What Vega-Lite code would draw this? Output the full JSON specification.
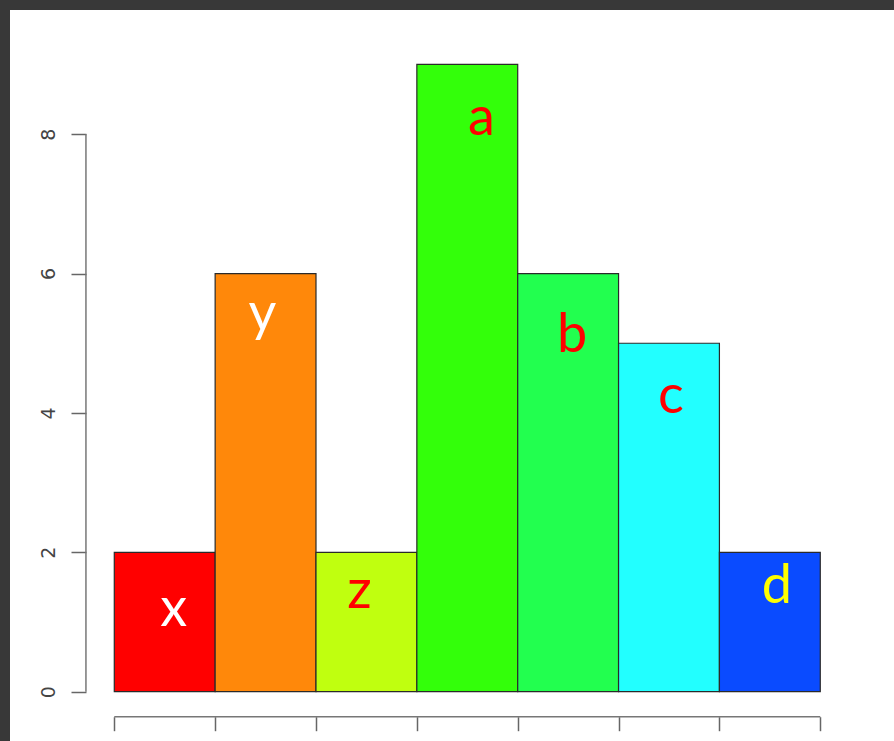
{
  "$schema": "https://vega.github.io/schema/vega-lite/v6.json",
  "width": 884,
  "height": 731,
  "autosize": "none",
  "padding": {"left": 10, "top": 10, "right": 0, "bottom": 0},
  "background": "#383838",
  "config": {"view": {"stroke": null, "fill": "white"}},
  "data": {
    "values": [
      {"label": "x", "start": 0, "end": 1, "value": 2, "color": "#FF0000", "tcolor": "#FFFFFF", "tx": 0.59, "ty": 0.94},
      {"label": "y", "start": 1, "end": 2, "value": 6, "color": "#FF880A", "tcolor": "#FFFFFF", "tx": 1.47, "ty": 5.17},
      {"label": "z", "start": 2, "end": 3, "value": 2, "color": "#C0FF0F", "tcolor": "#FF0000", "tx": 2.43, "ty": 1.2},
      {"label": "a", "start": 3, "end": 4, "value": 9, "color": "#33FF0A", "tcolor": "#FF0000", "tx": 3.64, "ty": 7.99},
      {"label": "b", "start": 4, "end": 5, "value": 6, "color": "#22FF4F", "tcolor": "#FF0000", "tx": 4.54, "ty": 4.87},
      {"label": "c", "start": 5, "end": 6, "value": 5, "color": "#22FFFF", "tcolor": "#FF0000", "tx": 5.52, "ty": 4.0},
      {"label": "d", "start": 6, "end": 7, "value": 2, "color": "#0A4BFF", "tcolor": "#FFFF00", "tx": 6.57, "ty": 1.27}
    ]
  },
  "layer": [
    {
      "mark": {"type": "rect", "stroke": "#2a2a2a", "strokeWidth": 1.2},
      "encoding": {
        "x": {
          "field": "start", "type": "quantitative",
          "scale": {"domain": [-1.034, 7.731], "nice": false, "zero": false},
          "axis": {"values": [0, 1, 2, 3, 4, 5, 6, 7], "labels": false, "domain": false, "grid": false, "title": null, "tickSize": 14, "tickColor": "#666666", "tickWidth": 1.5, "offset": -24.3}
        },
        "x2": {"field": "end"},
        "y": {
          "field": "value", "type": "quantitative",
          "scale": {"domain": [-0.707, 9.781], "nice": false, "zero": false},
          "axis": {"values": [0, 2, 4, 6, 8], "format": "d", "domain": false, "grid": false, "title": null, "tickSize": 15, "tickColor": "#666666", "tickWidth": 1.5, "offset": -76, "labelAngle": 270, "labelAlign": "center", "labelBaseline": "alphabetic", "labelPadding": 17, "labelFontSize": 19, "labelColor": "#444444", "labelFont": "DejaVu Sans"}
        },
        "y2": {"datum": 0},
        "color": {"field": "color", "type": "nominal", "scale": null}
      }
    },
    {
      "data": {"values": [{}]},
      "mark": {"type": "rule", "color": "#777777", "strokeWidth": 1.5},
      "encoding": {"x": {"datum": -0.281}, "y": {"datum": 0}, "y2": {"datum": 8}}
    },
    {
      "data": {"values": [{}]},
      "mark": {"type": "rule", "color": "#777777", "strokeWidth": 1.5},
      "encoding": {"x": {"datum": 0}, "x2": {"datum": 7}, "y": {"datum": -0.359}}
    },
    {
      "mark": {"type": "text", "fontSize": 54, "font": "Lato", "align": "center", "baseline": "alphabetic"},
      "encoding": {
        "x": {"field": "tx", "type": "quantitative"},
        "y": {"field": "ty", "type": "quantitative"},
        "text": {"field": "label"},
        "color": {"field": "tcolor", "type": "nominal", "scale": null}
      }
    }
  ]
}
